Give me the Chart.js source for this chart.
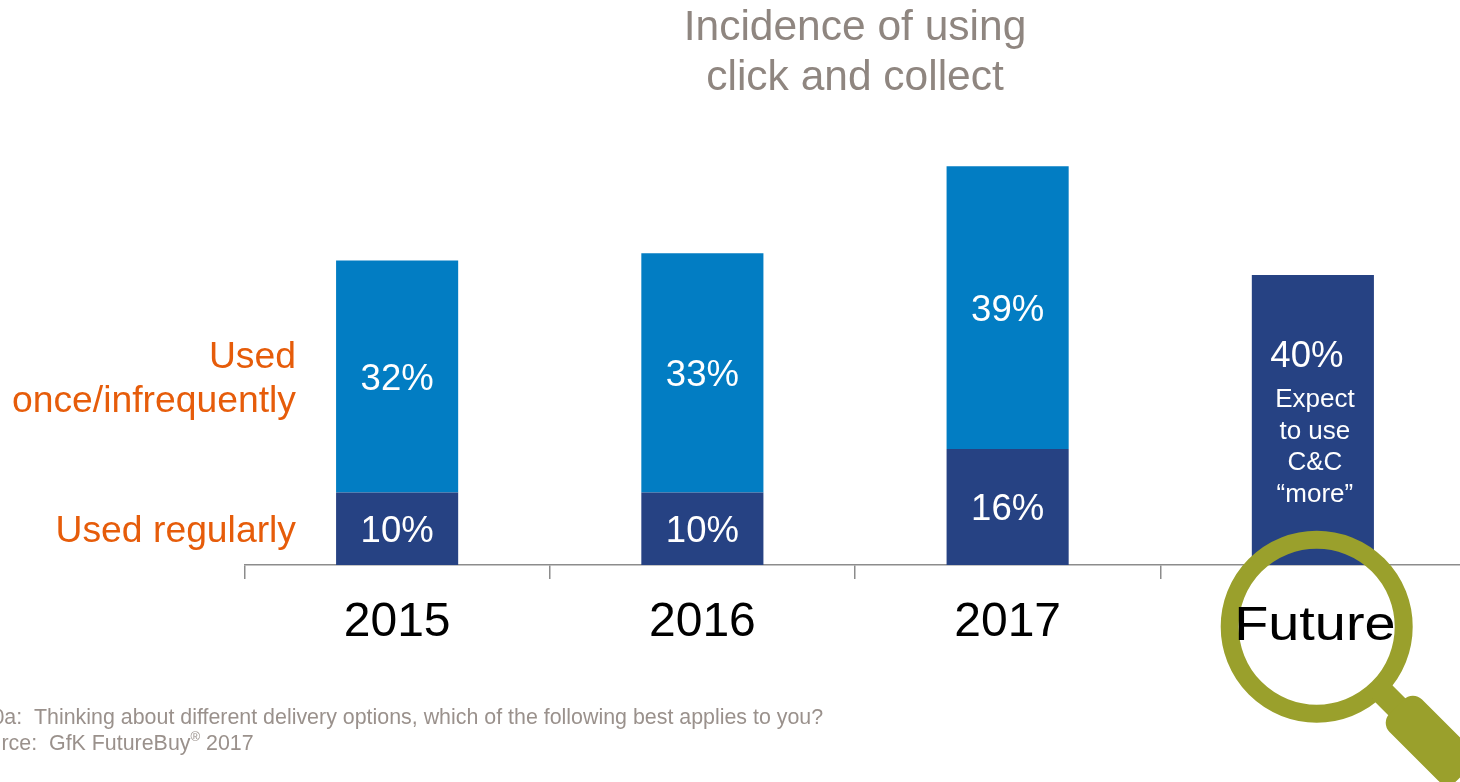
<!DOCTYPE html>
<html>
<head>
<meta charset="utf-8">
<title>Incidence of using click and collect</title>
<script src="https://cdn.jsdelivr.net/npm/chart.js@4"></script>
<style>
    html, body { margin: 0; background: #fff; overflow: hidden; height: 100%; }
    canvas { position: absolute; left: 0; top: 0; }
</style>
</head>
<body>
<canvas id="clickCollectChart" width="1480" height="782"></canvas>
<script>
const categories = ['2015', '2016', '2017', 'Future'];
const usedRegularly = [10, 10, 16, null];
const usedOnce = [32, 33, 39, null];
const expectMore = [null, null, null, 40];
const axisMax = 60;

const titleLines = ['Incidence of using', 'click and collect'];
const expectLines = ['Expect', 'to use', 'C&C', '\u201Cmore\u201D'];
const questionNote = 'Q10a:  Thinking about different delivery options, which of the following best applies to you?';
const sourceNote = 'Source:  GfK FutureBuy';
const sourceYear = ' 2017';

const FONT = '"Liberation Sans", Arial, sans-serif';
const ORANGE = '#e65c0a';
const NOTE_GREY = '#9a918c';
const OLIVE = '#9aa02c';

// value labels, row labels, footnotes and the magnifier over the last column
const annotations = {
    id: 'annotations',
    afterDatasetsDraw(chart) {
        const ctx = chart.ctx;
        ctx.save();
        ctx.textBaseline = 'middle';

        // percentages inside the bars
        ctx.fillStyle = '#fff';
        ctx.textAlign = 'center';
        ctx.font = '36.5px ' + FONT;
        chart.data.datasets.forEach((ds, d) => {
            chart.getDatasetMeta(d).data.forEach((bar, i) => {
                if (ds.data[i] == null) return;
                const mid = (bar.y + bar.base) / 2;
                if (ds === chart.data.datasets[2]) {
                    ctx.fillText(ds.data[i] + '%', bar.x - 6, bar.y + 82);
                } else {
                    ctx.fillText(ds.data[i] + '%', bar.x, mid + 3);
                }
            });
        });

        const futureBar = chart.getDatasetMeta(2).data[3];
        ctx.font = '26px ' + FONT;
        expectLines.forEach((line, i) => {
            ctx.fillText(line, futureBar.x + 2, futureBar.y + 125 + i * 31.5);
        });

        // row labels left of the first column
        ctx.fillStyle = ORANGE;
        ctx.textAlign = 'right';
        ctx.font = '37.3px ' + FONT;
        ctx.fillText('Used', 296, 358);
        ctx.fillText('once/infrequently', 296, 402);
        ctx.fillText('Used regularly', 296, 532);

        // footnotes run off the left edge
        ctx.fillStyle = NOTE_GREY;
        ctx.textAlign = 'left';
        ctx.font = '21.4px ' + FONT;
        const noteX = 34 - ctx.measureText('Q10a:  ').width;
        ctx.fillText(questionNote, noteX, 718);
        const srcX = 49 - ctx.measureText('Source:  ').width;
        ctx.fillText(sourceNote, srcX, 744);
        const markX = srcX + ctx.measureText(sourceNote).width;
        ctx.font = '13px ' + FONT;
        ctx.fillText('\u00AE', markX, 737);
        const yearX = markX + ctx.measureText('\u00AE').width;
        ctx.font = '21.4px ' + FONT;
        ctx.fillText(sourceYear, yearX, 744);

        // magnifier
        const cx = 1316.7, cy = 626.7;
        ctx.strokeStyle = OLIVE;
        ctx.lineWidth = 18;
        ctx.beginPath();
        ctx.arc(cx, cy, 87, 0, Math.PI * 2);
        ctx.stroke();
        ctx.save();
        ctx.translate(cx, cy);
        ctx.rotate(Math.PI / 4);
        ctx.fillStyle = OLIVE;
        ctx.fillRect(90, -12, 30, 24);
        ctx.beginPath();
        ctx.roundRect(113, -23, 95, 46, 13);
        ctx.fill();
        ctx.restore();

        // last category is stretched inside the lens
        ctx.save();
        ctx.fillStyle = '#000';
        ctx.textAlign = 'center';
        ctx.font = '49px ' + FONT;
        ctx.translate(futureBar.x + 2, 626);
        ctx.scale(1.14, 1);
        ctx.fillText(categories[3], 0, 0);
        ctx.restore();

        ctx.restore();
    }
};

new Chart(document.getElementById('clickCollectChart'), {
    type: 'bar',
    data: {
        labels: categories,
        datasets: [
            { label: 'Used regularly', data: usedRegularly, backgroundColor: '#264283' },
            { label: 'Used once/infrequently', data: usedOnce, backgroundColor: '#027dc3' },
            { label: 'Expect to use C&C more', data: expectMore, backgroundColor: '#264283' }
        ]
    },
    options: {
        responsive: false,
        animation: false,
        layout: { padding: { left: 244.5, right: 14.5, top: 3, bottom: 115.4 } },
        datasets: { bar: { barPercentage: 0.4, categoryPercentage: 1 } },
        plugins: {
            legend: { display: false },
            tooltip: { enabled: false },
            title: {
                display: true,
                fullSize: false,
                text: titleLines,
                color: '#8f8680',
                font: { family: FONT, size: 42.5, weight: 'normal', lineHeight: 1.18 },
                padding: { top: 0, bottom: 26.7 }
            }
        },
        scales: {
            x: {
                stacked: true,
                border: { color: '#8c8c8c', width: 1.5 },
                grid: { drawOnChartArea: false, color: '#8c8c8c', lineWidth: 1.5, tickLength: 14 },
                ticks: {
                    color: '#000',
                    padding: 15,
                    maxRotation: 0,
                    font: { family: FONT, size: 48 },
                    callback(value, i) {
                        return i === 3 ? '' : categories[i];
                    }
                }
            },
            y: { display: false, stacked: true, min: 0, max: axisMax }
        }
    },
    plugins: [annotations]
});
</script>
</body>
</html>
